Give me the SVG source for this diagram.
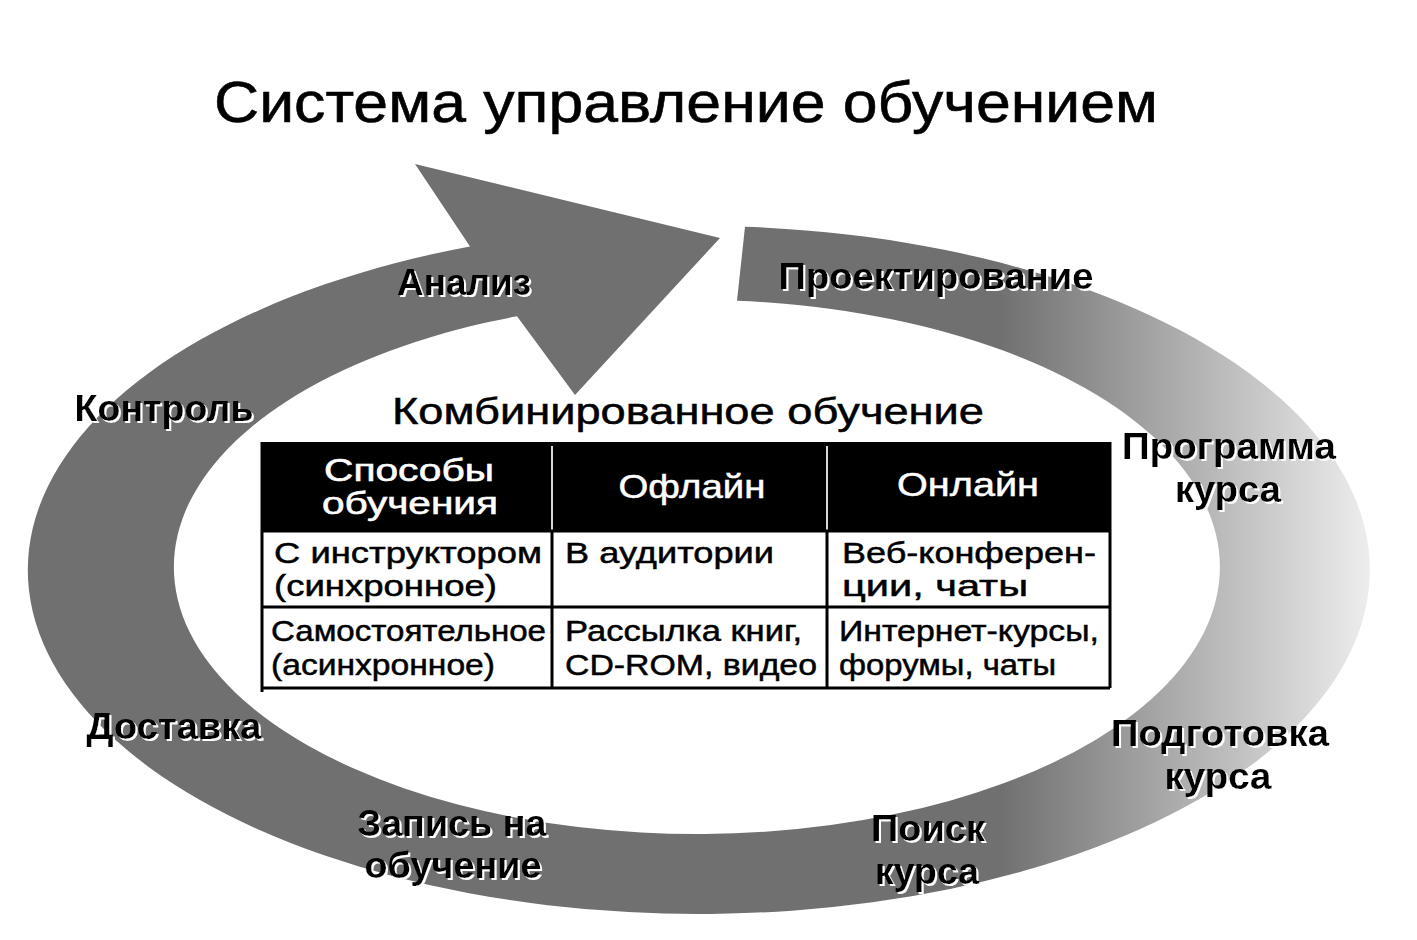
<svg xmlns="http://www.w3.org/2000/svg" width="1417" height="940" viewBox="0 0 1417 940">
<defs>
<linearGradient id="ringGrad" gradientUnits="userSpaceOnUse" x1="1000" y1="0" x2="1375" y2="0">
<stop offset="0" stop-color="#707070"/>
<stop offset="1" stop-color="#efefef"/>
</linearGradient>
<filter id="sh" x="-10%" y="-10%" width="120%" height="130%">
<feOffset in="SourceAlpha" dx="2" dy="2" result="o"/>
<feFlood flood-color="#ffffff"/>
<feComposite in2="o" operator="in" result="w"/>
<feMerge><feMergeNode in="w"/><feMergeNode in="SourceGraphic"/></feMerge>
</filter>
<style>
text{font-family:"Liberation Sans",Arial,sans-serif}
.title{font-size:58px;fill:#000;stroke:#000;stroke-width:0.6}
.sub{font-size:37px;fill:#000;stroke:#000;stroke-width:0.5}
.lbl{font-size:36px;font-weight:bold;fill:#000;text-anchor:middle;filter:url(#sh)}
.hd{font-size:34px;fill:#fff;stroke:#fff;stroke-width:0.5;text-anchor:middle}
.hd2{font-size:31px;fill:#fff;stroke:#fff;stroke-width:0.6;text-anchor:middle}
.cell{font-size:30px;fill:#000;stroke:#000;stroke-width:0.5}
.ln{stroke:#000;stroke-width:3;fill:none}
.hl{stroke:#d8d8d8;stroke-width:2;fill:none}
</style>
</defs>
<rect width="1417" height="940" fill="#fff"/>
<text class="title" x="686" y="122" text-anchor="middle" textLength="944" lengthAdjust="spacingAndGlyphs">Система управление обучением</text>
<g id="cycle">
<path d="M745,226.8 A671,344 0 1 1 470,246.6 L415,164 L720,238 L575,395 L517,316.3 A523,267 0 1 0 737,300.8 Z" fill="url(#ringGrad)"/>
</g>
<g id="labels">
<g id="analiz"><text class="lbl" x="464" y="295" textLength="134" lengthAdjust="spacingAndGlyphs">Анализ</text></g>
<g id="proekt"><text class="lbl" x="936" y="289" textLength="315" lengthAdjust="spacingAndGlyphs">Проектирование</text></g>
<g id="programma"><text class="lbl" x="1229" y="459" textLength="214" lengthAdjust="spacingAndGlyphs">Программа</text><text class="lbl" x="1228" y="502" textLength="106" lengthAdjust="spacingAndGlyphs">курса</text></g>
<g id="podgotovka"><text class="lbl" x="1220" y="746" textLength="218" lengthAdjust="spacingAndGlyphs">Подготовка</text><text class="lbl" x="1218" y="789" textLength="107" lengthAdjust="spacingAndGlyphs">курса</text></g>
<g id="poisk"><text class="lbl" x="928" y="841" textLength="114" lengthAdjust="spacingAndGlyphs">Поиск</text><text class="lbl" x="927" y="884" textLength="104" lengthAdjust="spacingAndGlyphs">курса</text></g>
<g id="zapis"><text class="lbl" x="452" y="836" textLength="189" lengthAdjust="spacingAndGlyphs">Запись на</text><text class="lbl" x="453" y="878" textLength="177" lengthAdjust="spacingAndGlyphs">обучение</text></g>
<g id="dostavka"><text class="lbl" x="174" y="739" textLength="175" lengthAdjust="spacingAndGlyphs">Доставка</text></g>
<g id="kontrol"><text class="lbl" x="164" y="421" textLength="179" lengthAdjust="spacingAndGlyphs">Контроль</text></g>
</g>
<g id="table">
<text class="sub" x="688" y="424" text-anchor="middle" textLength="592" lengthAdjust="spacingAndGlyphs">Комбинированное обучение</text>
<rect x="262" y="442" width="848" height="90" fill="#000"/>
<path class="hl" d="M552,446 V531 M827,446 V531"/>
<path class="ln" d="M262,442 V692 M1110,442 V688 M262,531 H1110 M262,607 H1110 M262,688 H1110 M552,531 V688 M827,531 V688"/>
<text class="hd2" x="409" y="481" textLength="170" lengthAdjust="spacingAndGlyphs">Способы</text>
<text class="hd2" x="410" y="514" textLength="176" lengthAdjust="spacingAndGlyphs">обучения</text>
<text class="hd" x="692" y="498" textLength="147" lengthAdjust="spacingAndGlyphs">Офлайн</text>
<text class="hd" x="968" y="496" textLength="142" lengthAdjust="spacingAndGlyphs">Онлайн</text>
<text class="cell" x="274" y="563" textLength="268" lengthAdjust="spacingAndGlyphs">С инструктором</text>
<text class="cell" x="274" y="596" textLength="223" lengthAdjust="spacingAndGlyphs">(синхронное)</text>
<text class="cell" x="565" y="563" textLength="209" lengthAdjust="spacingAndGlyphs">В аудитории</text>
<text class="cell" x="842" y="563" textLength="254" lengthAdjust="spacingAndGlyphs">Веб-конферен-</text>
<text class="cell" x="842" y="596" textLength="186" lengthAdjust="spacingAndGlyphs">ции, чаты</text>
<text class="cell" x="271" y="641" textLength="275" lengthAdjust="spacingAndGlyphs">Самостоятельное</text>
<text class="cell" x="271" y="675" textLength="224" lengthAdjust="spacingAndGlyphs">(асинхронное)</text>
<text class="cell" x="565" y="641" textLength="237" lengthAdjust="spacingAndGlyphs">Рассылка книг,</text>
<text class="cell" x="565" y="675" textLength="252" lengthAdjust="spacingAndGlyphs">CD-ROM, видео</text>
<text class="cell" x="839" y="641" textLength="260" lengthAdjust="spacingAndGlyphs">Интернет-курсы,</text>
<text class="cell" x="839" y="675" textLength="217" lengthAdjust="spacingAndGlyphs">форумы, чаты</text>
</g>
</svg>
